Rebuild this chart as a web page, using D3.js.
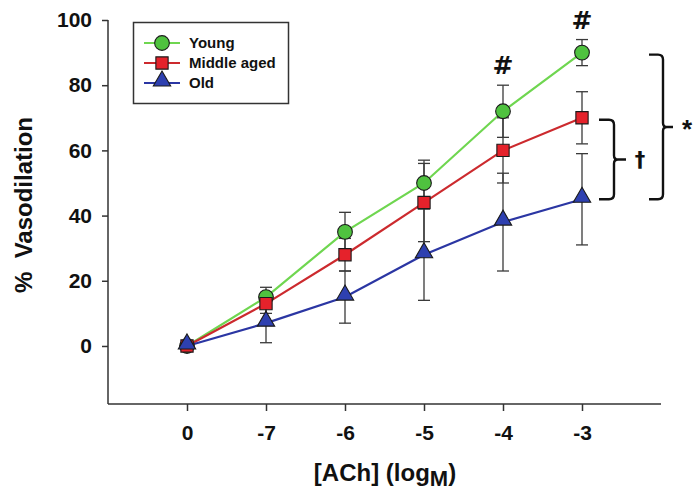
<!DOCTYPE html>
<html>
<head>
<meta charset="utf-8">
<script src="https://cdn.jsdelivr.net/npm/d3@7"></script>
<style>
  html, body { margin: 0; padding: 0; background: #fff; }
  svg { display: block; font-family: "Liberation Sans", Arial, sans-serif; }
</style>
</head>
<body>
<svg id="chart" width="694" height="493"></svg>
<script>
// ACh concentration steps (log M); "0" is the baseline
const doses = ["0", "-7", "-6", "-5", "-4", "-3"];

const youngMean  = [0, 15, 35, 50, 72, 90];
const youngErr   = [1, 3, 6, 7, 8, 4];
const middleMean = [0, 13, 28, 44, 60, 70];
const middleErr  = [1, 3, 5, 12, 10, 8];
const oldMean    = [0, 7, 15, 28, 38, 45];
const oldErr     = [1, 6, 8, 14, 15, 14];

const yTicks = [0, 20, 40, 60, 80, 100];
const hashDoses = ["-4", "-3"];

const series = [
  { name: "Young",       mean: youngMean,  err: youngErr,  line: "#6fd650", fill: "#4fc23f", shape: "circle" },
  { name: "Middle aged", mean: middleMean, err: middleErr, line: "#cc2a2e", fill: "#e5222b", shape: "square" },
  { name: "Old",         mean: oldMean,    err: oldErr,    line: "#2b36a3", fill: "#2e40b0", shape: "triangle" }
];

const svg = d3.select("#chart");
const axisColor = "#333";
const symbolFont = "'DejaVu Sans', sans-serif";

const x = d3.scaleLinear().domain([-1, 6]).range([108, 661]);
const y = d3.scaleLinear().domain([-17.8, 100]).range([404, 20]);
const xi = d => x(doses.indexOf(d));

// axes
const yAxis = d3.axisLeft(y).tickValues(yTicks).tickSize(6).tickPadding(10);
const gy = svg.append("g").attr("transform", `translate(${x(-1)},0)`).call(yAxis);
gy.select(".domain").attr("d", `M-0,${y(100)}V${y(-17.8)}`);

const xAxis = d3.axisBottom(x).tickValues(d3.range(doses.length))
  .tickFormat(i => doses[i]).tickSize(7).tickPadding(14);
const gx = svg.append("g").attr("transform", `translate(0,${y(-17.8)})`).call(xAxis);
gx.select(".domain").attr("d", `M${x(-1)},0H${x(6)}`);

[gx, gy].forEach(g => {
  g.selectAll(".domain").attr("stroke", axisColor).attr("stroke-width", 1.5);
  g.selectAll(".tick line").attr("stroke", axisColor).attr("stroke-width", 1.5);
  g.selectAll(".tick text").attr("fill", "#111").attr("font-size", 21).attr("font-weight", "bold");
});

// axis titles
svg.append("text")
  .attr("transform", `translate(32,205) rotate(-90)`)
  .attr("text-anchor", "middle").attr("font-size", 24).attr("font-weight", "bold")
  .attr("fill", "#111").attr("xml:space", "preserve")
  .text("%  Vasodilation");

const xt = svg.append("text")
  .attr("x", 385).attr("y", 481)
  .attr("text-anchor", "middle").attr("font-size", 24).attr("font-weight", "bold").attr("fill", "#111");
xt.append("tspan").text("[ACh] (log");
xt.append("tspan").attr("dy", 5).attr("font-size", 22).text("M");
xt.append("tspan").attr("dy", -5).text(")");

// connecting lines
const line = d3.line().x((d, i) => x(i)).y(d => y(d));
series.forEach(s => {
  svg.append("path").datum(s.mean)
    .attr("d", line).attr("fill", "none")
    .attr("stroke", s.line).attr("stroke-width", 2.2);
});

// error bars
const cap = 6;
series.forEach(s => {
  const g = svg.append("g").attr("stroke", "#3a3a3a").attr("stroke-width", 1.3);
  s.mean.forEach((m, i) => {
    const cx = x(i), lo = y(m - s.err[i]), hi = y(m + s.err[i]);
    g.append("line").attr("x1", cx).attr("x2", cx).attr("y1", lo).attr("y2", hi);
    g.append("line").attr("x1", cx - cap).attr("x2", cx + cap).attr("y1", lo).attr("y2", lo);
    g.append("line").attr("x1", cx - cap).attr("x2", cx + cap).attr("y1", hi).attr("y2", hi);
  });
});

// markers
const symbolFor = {
  circle: d3.symbol(d3.symbolCircle, 170),
  square: d3.symbol(d3.symbolSquare, 150),
  triangle: d3.symbol(d3.symbolTriangle, 130)
};
function drawMarker(g, s, cx, cy) {
  const yOff = s.shape === "triangle" ? -2 : 0;
  g.append("path")
    .attr("d", symbolFor[s.shape]())
    .attr("transform", `translate(${cx},${cy + yOff})`)
    .attr("fill", s.fill).attr("stroke", "#1a1a1a").attr("stroke-width", 1.1);
}
series.forEach(s => {
  const g = svg.append("g");
  s.mean.forEach((m, i) => drawMarker(g, s, x(i), y(m)));
});

// significance marks
hashDoses.forEach(d => {
  const i = doses.indexOf(d);
  const top = youngMean[i] + youngErr[i];
  svg.append("text").attr("x", xi(d)).attr("y", y(top) - 11)
    .attr("text-anchor", "middle").attr("font-family", symbolFont)
    .attr("font-size", 25).attr("font-weight", "bold")
    .attr("fill", "#111").text("#");
});

// curly brackets grouping the final-dose values
function brace(x0, x1, yTop, yBot, tickLen) {
  const r = 5, mid = (yTop + yBot) / 2;
  return `M${x0},${yTop}H${x1 - r}Q${x1},${yTop} ${x1},${yTop + r}` +
         `V${mid - 4}Q${x1},${mid} ${x1 + 4},${mid}H${x1 + tickLen}` +
         `M${x1 + 4},${mid}Q${x1},${mid} ${x1},${mid + 4}` +
         `V${yBot - r}Q${x1},${yBot} ${x1 - r},${yBot}H${x0}`;
}
const last = doses.length - 1;
const oldY = y(oldMean[last]);
svg.append("path")
  .attr("d", brace(x(last) + 67, x(last) + 81, y(youngMean[last]) + 2, oldY, 10))
  .attr("fill", "none").attr("stroke", "#111").attr("stroke-width", 2.4);
svg.append("text").attr("x", 682).attr("y", 138).attr("font-size", 26).attr("font-weight", "bold")
  .attr("fill", "#111").text("*");

svg.append("path")
  .attr("d", brace(x(last) + 17, x(last) + 32, y(middleMean[last]) + 2, oldY, 12))
  .attr("fill", "none").attr("stroke", "#111").attr("stroke-width", 2.4);
svg.append("text").attr("x", 640).attr("y", 167).attr("text-anchor", "middle")
  .attr("font-family", symbolFont)
  .attr("font-size", 21).attr("font-weight", "bold").attr("fill", "#111").text("†");

// legend
const lg = svg.append("g");
lg.append("rect").attr("x", 133.5).attr("y", 22.5).attr("width", 155).attr("height", 81)
  .attr("fill", "#fff").attr("stroke", "#333").attr("stroke-width", 1.5);
series.forEach((s, k) => {
  const ly = 43 + k * 20;
  lg.append("line").attr("x1", 144).attr("x2", 180).attr("y1", ly).attr("y2", ly)
    .attr("stroke", s.line).attr("stroke-width", 2.2);
  drawMarker(lg, s, 162, ly);
  lg.append("text").attr("x", 189).attr("y", ly + 5)
    .attr("font-size", 15).attr("font-weight", "bold").attr("fill", "#111").text(s.name);
});
</script>
</body>
</html>
